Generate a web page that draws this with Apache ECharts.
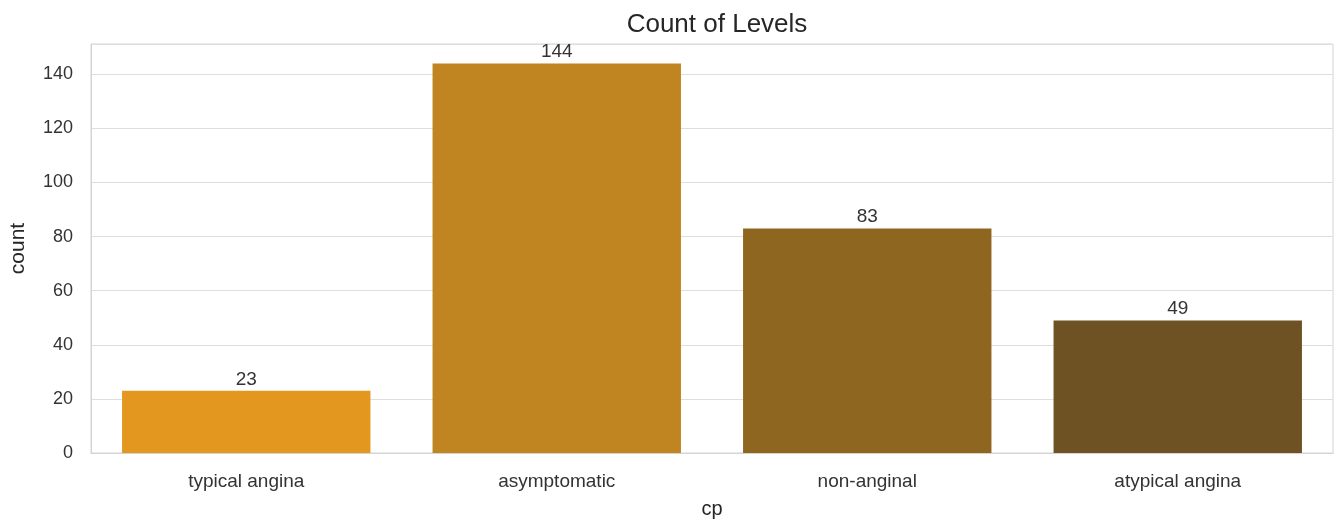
<!DOCTYPE html>
<html>
<head>
<meta charset="utf-8">
<script src="https://cdn.jsdelivr.net/npm/echarts@6/dist/echarts.min.js"></script>
<style>html,body{margin:0;padding:0;background:#fff}#c{width:1343px;height:524px}</style>
</head>
<body>
<div id="c"></div>
<script>
const categories = ['typical angina', 'asymptomatic', 'non-anginal', 'atypical angina'];
const counts = [23, 144, 83, 49];
const barColors = ['#E3971F', '#C08420', '#8F6620', '#6F5224'];
const yTicks = { min: 0, max: 151.2, interval: 20 };

const chart = echarts.init(document.getElementById('c'));
const font = 'Liberation Sans, Arial, sans-serif';
chart.setOption({
  animation: false,
  backgroundColor: '#ffffff',
  title: {
    text: 'Count of Levels', left: 712, textAlign: 'center', top: 7,
    textStyle: { fontFamily: font, fontSize: 26, fontWeight: 'normal', color: '#262626' }
  },
  grid: {
    left: 91, right: 10, top: 44, bottom: 69,
    show: true, borderColor: '#d4d4d4', borderWidth: 1, backgroundColor: 'transparent'
  },
  xAxis: {
    type: 'category', data: categories,
    name: 'cp', nameLocation: 'middle', nameGap: 46,
    nameTextStyle: { fontFamily: font, fontSize: 20, color: '#262626' },
    axisLine: { show: true, lineStyle: { color: '#d4d4d4' } },
    axisTick: { show: false },
    axisLabel: { fontFamily: font, fontSize: 19, color: '#333333', margin: 19 },
    splitLine: { show: false }
  },
  yAxis: {
    type: 'value', min: yTicks.min, max: yTicks.max, interval: yTicks.interval,
    name: 'count', nameLocation: 'middle', nameGap: 62, nameRotate: 90,
    nameTextStyle: { fontFamily: font, fontSize: 21, color: '#262626' },
    axisLine: { show: true, lineStyle: { color: '#d4d4d4' } },
    axisTick: { show: false },
    axisLabel: { fontFamily: font, fontSize: 18, color: '#333333', margin: 18, showMaxLabel: false },
    splitLine: { show: true, lineStyle: { color: '#dedede', width: 1.2 } }
  },
  series: [{
    type: 'bar',
    data: counts.map((v, i) => ({ value: v, itemStyle: { color: barColors[i] } })),
    barCategoryGap: '20%',
    label: {
      show: true, position: 'top', distance: 2,
      fontFamily: font, fontSize: 19, color: '#333333'
    }
  }]
});
</script>
</body>
</html>
